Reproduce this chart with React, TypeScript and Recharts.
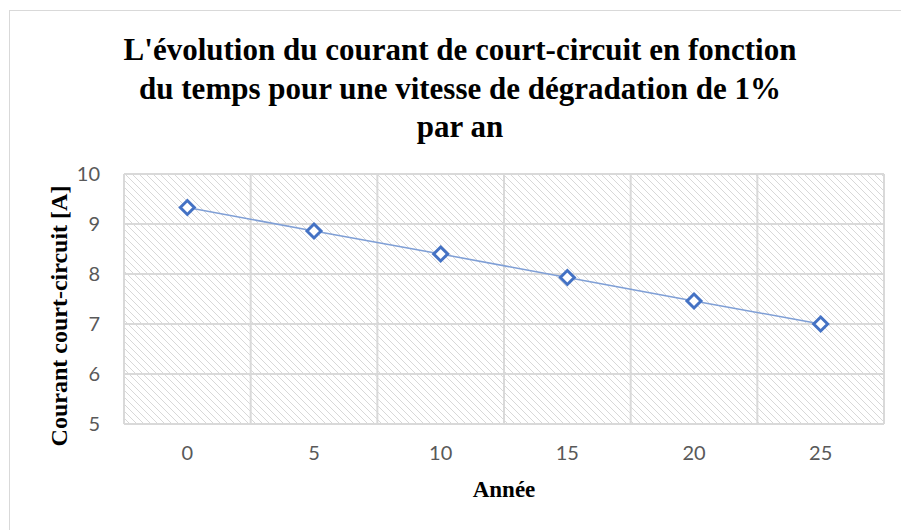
import React from 'react';
import { LineChart, Line, XAxis, YAxis, CartesianGrid } from 'recharts';

const years = [0, 5, 10, 15, 20, 25];
const courant = [9.33, 8.86, 8.4, 7.93, 7.46, 7.0];
const yTicks = [5, 6, 7, 8, 9, 10];
const titleLines = [
  "L'évolution du courant de court-circuit en fonction",
  'du temps pour une vitesse de dégradation de 1%',
  'par an',
];

const data = years.map((y, i) => ({ year: y, value: courant[i] }));

const W = 901;
const H = 530;
const PLOT_W = 760;
const BLUE = '#4472C4';
const GRID = '#d9d9d9';
const SERIF = '"Liberation Serif", "Times New Roman", serif';

const Diamond = (props: any) => {
  const { cx, cy } = props;
  if (cx == null || cy == null) return null;
  const r = 7;
  return (
    <path
      d={`M${cx},${cy - r} L${cx + r},${cy} L${cx},${cy + r} L${cx - r},${cy} Z`}
      fill="#fff"
      stroke={BLUE}
      strokeWidth={3}
      strokeLinejoin="miter"
    />
  );
};

const YLabel = (props: any) => {
  const vb = props.viewBox;
  const x = 67;
  const y = vb.y + vb.height / 2 + 17;
  return (
    <text
      x={x}
      y={y}
      transform={`rotate(-90 ${x} ${y})`}
      textAnchor="middle"
      fontFamily={SERIF}
      fontWeight="bold"
      fontSize={24}
      fill="#000"
    >
      Courant court-circuit [A]
    </text>
  );
};

const XLabel = (props: any) => {
  const vb = props.viewBox;
  return (
    <text
      x={vb.x + vb.width / 2}
      y={vb.y + 73}
      textAnchor="middle"
      fontFamily={SERIF}
      fontWeight="bold"
      fontSize={23}
      fill="#000"
    >
      Année
    </text>
  );
};

export default function App() {
  const tickStyle = { fontSize: 20, fontFamily: 'Lato, "Open Sans", sans-serif', fill: '#595959' };
  return (
    <div style={{ position: 'absolute', left: 0, top: 0, width: W, height: H, overflow: 'hidden', background: '#fff' }}>
      <div
        style={{
          position: 'absolute',
          left: 9,
          top: 10,
          width: W,
          height: H,
          border: `1px solid ${GRID}`,
          boxSizing: 'border-box',
        }}
      />
      <div
        style={{
          position: 'absolute',
          left: 0,
          top: 31,
          width: 920,
          textAlign: 'center',
          fontFamily: SERIF,
          fontWeight: 'bold',
          fontSize: 31,
          lineHeight: '38.5px',
          color: '#000',
        }}
      >
        {titleLines.map((t) => (
          <div key={t}>{t}</div>
        ))}
      </div>
      <div style={{ position: 'absolute', left: 0, top: 0 }}>
        <LineChart width={W} height={H} data={data} margin={{ top: 174, right: 17, bottom: 0, left: 0 }}>
          <defs>
            <pattern id="hatch" patternUnits="userSpaceOnUse" width={7} height={7}>
              <rect width={7} height={7} fill="#fff" />
              <path d="M0,0 L7,7 M-1,6 L1,8 M6,-1 L8,1" stroke="#d4d4d4" strokeWidth={0.9} />
            </pattern>
          </defs>
          <CartesianGrid
            stroke={GRID}
            strokeWidth={2}
            fill="url(#hatch)"
            fillOpacity={1}
            verticalCoordinatesGenerator={({ offset }: any) =>
              years.concat([0]).map((_, i) => offset.left + (i * offset.width) / years.length)
            }
          />
          <XAxis
            dataKey="year"
            type="category"
            height={106}
            padding={{ left: PLOT_W / 12, right: PLOT_W / 12 }}
            axisLine={false}
            tickLine={false}
            tickSize={0}
            tickMargin={22}
            tick={tickStyle}
            label={<XLabel />}
          />
          <YAxis
            width={124}
            domain={[5, 10]}
            ticks={yTicks}
            type="number"
            axisLine={false}
            tickLine={false}
            tickSize={0}
            tickMargin={24}
            tick={tickStyle}
            label={<YLabel />}
          />
          <Line
            dataKey="value"
            stroke="#7f9fd6"
            strokeWidth={1.5}
            dot={<Diamond />}
            activeDot={false}
            isAnimationActive={false}
          />
        </LineChart>
      </div>
    </div>
  );
}
